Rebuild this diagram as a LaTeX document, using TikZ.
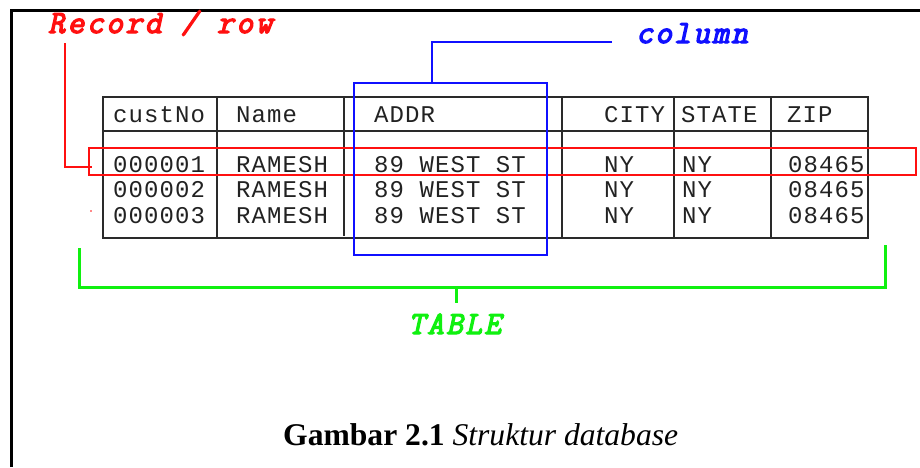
\documentclass[tikz,border=0pt]{standalone}
\usepackage{fontspec}
\newfontfamily\cellfont[LetterSpace=4.5]{Liberation Mono}
\newfontfamily\labfont[FakeBold=4,FakeSlant=0.22,LetterSpace=7]{Latin Modern Mono}
\newfontfamily\reclabfont[FakeBold=4,FakeSlant=0.22,LetterSpace=8]{Latin Modern Mono}
\newfontfamily\capfont{Liberation Serif}
\definecolor{tblgray}{HTML}{2A2A2A}
\definecolor{celltext}{HTML}{222222}
\definecolor{rred}{HTML}{FF1010}
\definecolor{bblue}{HTML}{1010FF}
\definecolor{ggreen}{HTML}{10F010}
\tikzset{
  frame/.style={line width=3pt, black},
  grid/.style={line width=1.5pt, tblgray},
  cell/.style={anchor=base west, inner sep=0pt, text=celltext, font=\cellfont\fontsize{24}{24}\selectfont},
  lab/.style={anchor=base west, inner sep=0pt, font=\labfont\fontsize{32.5}{32}\selectfont},
  redline/.style={line width=1.5pt, rred},
  blueline/.style={line width=1.5pt, bblue},
  greenline/.style={line width=3pt, ggreen},
}
\begin{document}
\begin{tikzpicture}[x=1pt,y=-1pt]
\useasboundingbox (0,0) rectangle (920,467);
% outer frame
\draw[frame] (11,467) -- (11,10) -- (920,10);
% table grid
\draw[grid] (103,97) rectangle (868,238);
\draw[grid] (103,131) -- (868,131);
\draw[grid] (217,97) -- (217,238);
\draw[line width=2pt, tblgray] (344,97) -- (344,236);
\draw[grid] (562,97) -- (562,238);
\draw[grid] (674,97) -- (674,238);
\draw[grid] (771,97) -- (771,238);
% header
\node[cell] (hcust) at (113,122) {custNo};
\node[cell] (hname) at (236,122) {Name};
\node[cell] (haddr) at (374,122) {ADDR};
\node[cell] (hcity) at (604,122) {CITY};
\node[cell] (hstate) at (681,122) {STATE};
\node[cell] (hzip) at (787,122) {ZIP};
% rows
\foreach \n/\y in {1/172.5,2/197.5,3/223}{
  \node[cell] (c\n) at (113,\y) {00000\n};
  \node[cell] (n\n) at (236,\y) {RAMESH};
  \node[cell] (a\n) at (374,\y) {89 WEST ST};
  \node[cell] (ct\n) at (604,\y) {NY};
  \node[cell] (s\n) at (682,\y) {NY};
  \node[cell] (z\n) at (788,\y) {08465};
}
% record / row
\node[lab, font=\reclabfont\fontsize{32.5}{32}\selectfont, text=rred] (rec) at (48,33) {Record / row};
\coordinate (recbot) at (65,43);
\draw[redline] (recbot) -- (65,167) -- (92,167);
\draw[redline] (89,148) rectangle (916,175);
\fill[rred] (91,211) circle (0.8);
% column
\node[lab, text=bblue] (col) at (636,43) {column};
\coordinate (colend) at (612,42);
\draw[blueline] (colend) -- (432,42) -- (432,83);
\draw[blueline] (354,83) rectangle (547,255);
% table bracket
\draw[greenline] (79,248) -- (79,287) -- (885,287) -- (885,245);
\draw[greenline] (456,287) -- (456,303);
\node[lab, text=ggreen] (tbl) at (408,334) {TABLE};
% caption
\node[anchor=base west, inner sep=0pt, font=\capfont\fontsize{31.6}{32}\selectfont] (cap) at (283,445) {\textbf{Gambar 2.1} \textit{Struktur database}};
\end{tikzpicture}
\end{document}
